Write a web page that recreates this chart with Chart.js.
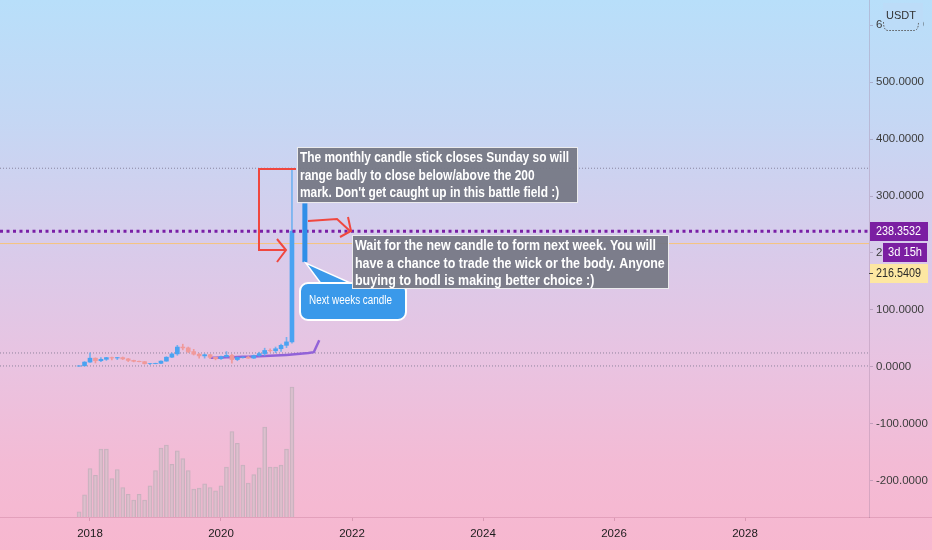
<!DOCTYPE html>
<html>
<head>
<meta charset="utf-8">
<script src="https://cdn.jsdelivr.net/npm/chart.js@4.4.1/dist/chart.umd.min.js"></script>
<style>
  html, body { margin: 0; padding: 0; }
  body {
    width: 932px; height: 550px; overflow: hidden;
    background: linear-gradient(to bottom, #b8dffa 0%, #c5d7f4 22%, #d9cbea 46%, #e9c3e1 66%, #f3bbd5 84%, #f7b7cf 100%);
  }
  canvas { display: block; }
</style>
</head>
<body>
<canvas id="chart" width="932" height="550"></canvas>
<script>
// BNB / USDT, monthly candles
const months = [
  '2017-11', '2017-12',
  '2018-01', '2018-02', '2018-03', '2018-04', '2018-05', '2018-06',
  '2018-07', '2018-08', '2018-09', '2018-10', '2018-11', '2018-12',
  '2019-01', '2019-02', '2019-03', '2019-04', '2019-05', '2019-06',
  '2019-07', '2019-08', '2019-09', '2019-10', '2019-11', '2019-12',
  '2020-01', '2020-02', '2020-03', '2020-04', '2020-05', '2020-06',
  '2020-07', '2020-08', '2020-09', '2020-10', '2020-11', '2020-12',
  '2021-01', '2021-02'
];
const opens  = [1.5, 2.0, 8.6, 15.5, 11.0, 13.5, 16.5, 15.8, 16.5, 14.2, 11.5, 10.0, 9.3, 5.9,
                6.0, 6.4, 10.3, 17.2, 23.0, 35.0, 33.5, 27.0, 22.5, 19.5, 21.5, 17.0,
                14.5, 18.0, 20.5, 13.0, 16.8, 17.3, 15.5, 20.0, 23.5, 29.0, 28.5, 32.0, 38.0, 44.0];
const highs  = [2.2, 9.5, 25.0, 16.0, 16.5, 17.0, 17.5, 17.0, 17.5, 15.0, 12.0, 10.5, 9.8, 6.5,
                6.8, 11.0, 18.0, 25.0, 38.0, 40.0, 35.0, 31.0, 23.5, 23.0, 22.0, 17.5,
                19.0, 27.0, 22.0, 17.5, 18.0, 18.5, 21.0, 26.0, 33.0, 32.0, 35.0, 40.0, 52.0, 348.7];
const lows   = [1.4, 1.9, 8.0, 7.0, 9.5, 11.5, 12.5, 13.0, 13.0, 9.5, 9.0, 8.8, 5.0, 4.2,
                5.5, 5.8, 10.0, 16.5, 20.5, 30.0, 25.0, 21.0, 15.5, 15.5, 14.5, 12.5,
                13.5, 17.5, 6.5, 11.0, 15.5, 15.0, 15.0, 19.0, 20.0, 26.5, 25.0, 27.5, 34.0, 42.0];
const closes = [2.0, 8.6, 15.5, 11.0, 13.5, 16.5, 15.8, 16.5, 14.2, 11.5, 10.0, 9.3, 5.9, 6.0,
                6.4, 10.3, 17.2, 23.0, 35.0, 33.5, 27.0, 22.5, 19.5, 21.5, 17.0, 14.5,
                18.0, 20.5, 13.0, 16.8, 17.3, 15.5, 20.0, 23.5, 29.0, 28.5, 32.0, 38.0, 44.0, 238.3532];
const volumes = [15, 65, 143, 123, 200, 200, 113, 140, 87, 67, 50, 67, 50, 92, 137, 203, 212, 155, 195, 172,
                 137, 82, 85, 98, 87, 77, 92, 147, 252, 217, 153, 100, 125, 145, 265, 147, 147, 153, 200, 383];

// shifted moving average drawn on the chart
const maMonths = ['2019-11', '2019-12', '2020-01', '2020-02', '2020-03', '2020-04', '2020-05',
                  '2020-06', '2020-07', '2020-08', '2020-09', '2020-10', '2020-11', '2020-12',
                  '2021-01', '2021-02', '2021-03', '2021-04', '2021-05', '2021-06', '2021-07'];
const maValues = [16.0, 16.3, 16.6, 16.9, 17.2, 17.5, 17.8, 18.1, 18.4, 18.8, 19.2, 19.6, 20.1, 20.6,
                  21.2, 21.9, 22.7, 23.6, 24.6, 26.0, 47.0];

// horizontal levels
const lastPrice = 238.3532;
const askPrice = 216.5409;
const dottedLevels = [348.7, 24.6, 1.8];
const nextCandle = { month: '2021-04', top: 287, bottom: 184 };

const yearTicks = [2018, 2020, 2022, 2024, 2026, 2028];
const priceTicks = [-200, -100, 0, 100, 200, 300, 400, 500, 600];
const countdown = '3d 15h';

const X_MIN = 2016.626, X_MAX = 2029.893;
const Y_MIN = -263.2, Y_MAX = 643.9;

const UP = '#4aa3f2';
const DOWN = '#f0999a';

function monthToX(m) {
  const [y, mo] = m.split('-').map(Number);
  return y + (mo - 1) / 12;
}

const xs = months.map(monthToX);
const candleColors = opens.map((o, i) => closes[i] >= o ? UP : DOWN);

function levelLine(v) {
  return [{ x: X_MIN, y: v }, { x: X_MAX, y: v }];
}

const SANS = '"Liberation Sans", Arial, sans-serif';

// text squeezed to a given width
function fitText(ctx, text, x, y, width) {
  const k = width / ctx.measureText(text).width;
  ctx.save();
  ctx.translate(x, y);
  ctx.scale(k, 1);
  ctx.fillText(text, 0, 0);
  ctx.restore();
  return k;
}

function drawNote(ctx, box, lines, targetWidth) {
  ctx.save();
  ctx.fillStyle = 'rgba(120,122,134,0.96)';
  ctx.fillRect(box.x, box.y, box.w, box.h);
  ctx.strokeStyle = 'rgba(255,255,255,0.85)';
  ctx.lineWidth = 1;
  ctx.strokeRect(box.x + 0.5, box.y + 0.5, box.w - 1, box.h - 1);
  ctx.font = 'bold 15px ' + SANS;
  ctx.fillStyle = '#ffffff';
  ctx.textBaseline = 'middle';
  const k = targetWidth / ctx.measureText(lines[0]).width;
  lines.forEach((line, i) => {
    ctx.save();
    ctx.translate(box.x + 3, box.y + 11 + i * 17.5);
    ctx.scale(k, 1);
    ctx.fillText(line, 0, 0);
    ctx.restore();
  });
  ctx.restore();
}

function drawPath(ctx, pts) {
  ctx.beginPath();
  ctx.moveTo(pts[0][0], pts[0][1]);
  for (const p of pts.slice(1)) ctx.lineTo(p[0], p[1]);
  ctx.stroke();
}

const overlay = {
  id: 'overlay',
  afterDraw(chart) {
    const ctx = chart.ctx;
    const y = chart.scales.y;
    const x = chart.scales.x;
    const area = chart.chartArea;

    // axis line through the price scale too
    ctx.save();
    ctx.strokeStyle = 'rgba(205,130,160,0.45)';
    ctx.lineWidth = 1;
    drawPath(ctx, [[area.right, area.bottom + 0.5], [932, area.bottom + 0.5]]);

    // next week's candle (drawn rectangle)
    const nx = x.getPixelForValue(monthToX(nextCandle.month)) + 2;
    const nTop = y.getPixelForValue(nextCandle.top);
    const nBot = y.getPixelForValue(nextCandle.bottom);
    ctx.fillStyle = '#2f8fe8';
    ctx.fillRect(nx - 2.5, nTop, 5, nBot - nTop);

    // red arrows
    ctx.strokeStyle = '#f0473f';
    ctx.lineWidth = 2;
    ctx.lineJoin = 'miter';
    drawPath(ctx, [[296, 169], [259, 169], [259, 250], [285, 250]]);
    drawPath(ctx, [[277, 239], [286, 250], [277, 262]]);
    drawPath(ctx, [[308, 221], [337, 219], [350, 231]]);
    drawPath(ctx, [[348, 217], [351, 231], [340, 237]]);

    // callout "Next weeks candle"
    ctx.fillStyle = '#3a99ea';
    ctx.strokeStyle = '#ffffff';
    ctx.lineWidth = 1.5;
    ctx.beginPath();
    ctx.moveTo(nx + 1, nBot + 1);
    ctx.lineTo(355, 285);
    ctx.lineTo(322, 285);
    ctx.closePath();
    ctx.fill();
    ctx.stroke();
    ctx.lineWidth = 2;
    ctx.beginPath();
    ctx.roundRect(300, 283, 106, 37, 8);
    ctx.fill();
    ctx.stroke();
    ctx.fillStyle = '#ffffff';
    ctx.font = '12px ' + SANS;
    ctx.textBaseline = 'middle';
    fitText(ctx, 'Next weeks candle', 309, 301, 83);

    // text notes
    drawNote(ctx, { x: 297, y: 147, w: 281, h: 56 }, [
      'The monthly candle stick closes Sunday so will',
      'range badly to close below/above the 200',
      "mark. Don't get caught up in this battle field :)"
    ], 269);
    drawNote(ctx, { x: 352, y: 235, w: 317, h: 54 }, [
      'Wait for the new candle to form next week. You will',
      'have a chance to trade the wick or the body. Anyone',
      'buying to hodl is making better choice :)'
    ], 301);

    // price scale labels
    const lp = Math.round(y.getPixelForValue(lastPrice));
    ctx.font = '12px ' + SANS;
    ctx.textBaseline = 'middle';
    ctx.fillStyle = '#7b1fa2';
    ctx.fillRect(area.right + 1, lp - 9, 58, 19);
    ctx.fillStyle = '#ffffff';
    fitText(ctx, lastPrice.toFixed(4), area.right + 7, lp + 1, 45);
    ctx.fillStyle = '#7b1fa2';
    ctx.fillRect(area.right + 14, lp + 12, 44, 19);
    ctx.fillStyle = '#ffffff';
    fitText(ctx, countdown, area.right + 19, lp + 22, 34);
    ctx.fillStyle = '#fde7a2';
    ctx.fillRect(area.right + 1, lp + 33, 58, 19);
    ctx.fillStyle = '#2a2a2a';
    fitText(ctx, askPrice.toFixed(4), area.right + 7, lp + 43, 45);
    ctx.strokeStyle = '#444';
    ctx.lineWidth = 1;
    drawPath(ctx, [[area.right, lp + 42.5], [area.right + 4, lp + 42.5]]);

    // currency label
    ctx.fillStyle = '#bcdcf8';
    ctx.fillRect(883, 3, 40, 28);
    ctx.strokeStyle = '#555';
    ctx.setLineDash([1.5, 1.5]);
    ctx.beginPath();
    ctx.moveTo(883.5, 22);
    ctx.quadraticCurveTo(883.5, 30.5, 888, 30.5);
    ctx.lineTo(914, 30.5);
    ctx.quadraticCurveTo(918.5, 30.5, 918.5, 22);
    ctx.stroke();
    ctx.setLineDash([]);
    ctx.fillStyle = '#333';
    ctx.font = '11px ' + SANS;
    ctx.textAlign = 'center';
    ctx.fillText('USDT', 901, 16);
    ctx.restore();
  }
};

Chart.defaults.font.family = SANS;

const datasets = [
  {
    type: 'bar', label: 'Volume', yAxisID: 'vol', order: 9, grouped: false,
    data: xs.map((v, i) => ({ x: v, y: volumes[i] })),
    backgroundColor: 'rgba(214,192,203,0.7)',
    borderColor: 'rgba(185,172,182,0.75)', borderWidth: 1, barThickness: 4
  },
  ...dottedLevels.map(v => ({
    type: 'line', order: 8, data: levelLine(v),
    borderColor: 'rgba(120,115,140,0.8)', borderWidth: 1, borderDash: [1, 2], pointRadius: 0
  })),
  {
    type: 'line', order: 8, data: levelLine(askPrice),
    borderColor: '#f6c47c', borderWidth: 1, pointRadius: 0
  },
  {
    type: 'line', label: 'MA', order: 3,
    data: maMonths.map((m, i) => ({ x: monthToX(m), y: maValues[i] })),
    borderColor: '#9263d8', borderWidth: 2.5, pointRadius: 0, tension: 0
  },
  {
    type: 'bar', label: 'Wicks', order: 2, grouped: false,
    data: xs.map((v, i) => ({ x: v, y: [lows[i], highs[i]] })),
    backgroundColor: candleColors.map(c => c === UP ? 'rgba(90,170,240,0.8)' : c),
    barThickness: 1
  },
  {
    type: 'bar', label: 'Bodies', order: 1, grouped: false,
    data: xs.map((v, i) => ({ x: v, y: [opens[i], closes[i]] })),
    backgroundColor: candleColors, barThickness: 4
  },
  {
    type: 'line', order: 0, data: levelLine(lastPrice),
    borderColor: '#7a1fa6', borderWidth: 3, borderDash: [3, 3.5], pointRadius: 0
  }
];

new Chart(document.getElementById('chart'), {
  type: 'bar',
  data: { datasets },
  options: {
    responsive: false,
    animation: false,
    devicePixelRatio: 1,
    layout: { padding: 0 },
    plugins: { legend: { display: false }, tooltip: { enabled: false } },
    scales: {
      x: {
        type: 'linear', min: X_MIN, max: X_MAX, offset: false,
        afterBuildTicks: s => { s.ticks = yearTicks.map(v => ({ value: v })); },
        afterFit: s => { s.height = 33; s.paddingLeft = 0; s.paddingRight = 0; },
        ticks: {
          autoSkip: false, maxRotation: 0, padding: 6,
          color: '#1c1c1c', font: { size: 11.5 },
          callback: v => String(v)
        },
        grid: { drawOnChartArea: false, tickLength: 4, color: 'rgba(190,120,150,0.5)', offset: false },
        border: { color: 'rgba(205,130,160,0.45)' }
      },
      y: {
        type: 'linear', position: 'right', min: Y_MIN, max: Y_MAX,
        afterBuildTicks: s => { s.ticks = priceTicks.map(v => ({ value: v })); },
        afterFit: s => { s.width = 63; s.paddingTop = 0; s.paddingBottom = 0; },
        ticks: {
          padding: 3, color: '#3c3c3c', font: { size: 11.5 },
          callback: v => Number(v).toFixed(4)
        },
        grid: { drawOnChartArea: false, tickLength: 4, color: 'rgba(140,120,150,0.45)' },
        border: { color: 'rgba(160,130,160,0.35)' }
      },
      vol: {
        type: 'linear', display: false, min: 0, max: 1523
      }
    }
  },
  plugins: [overlay]
});
</script>
</body>
</html>
